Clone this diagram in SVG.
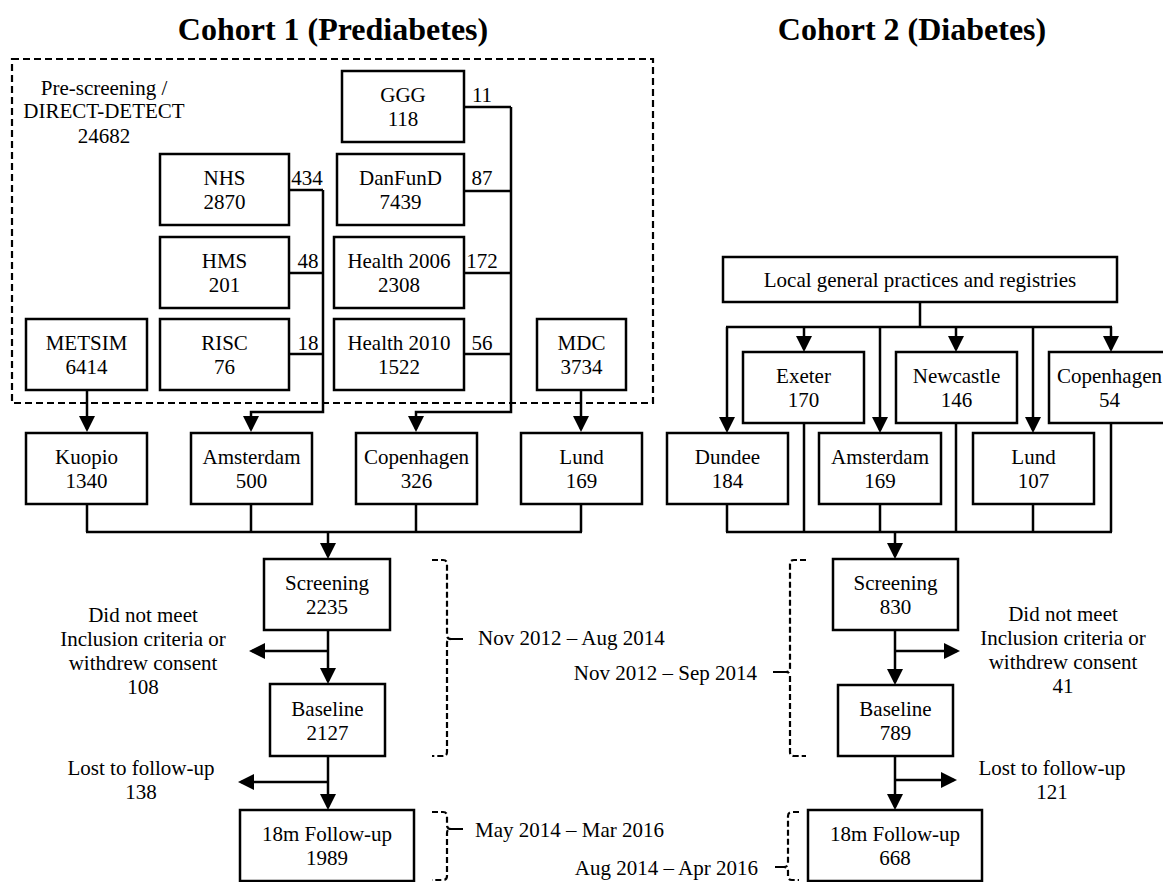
<svg xmlns="http://www.w3.org/2000/svg" width="1163" height="882" viewBox="0 0 1163 882">
<style>
.box{fill:#fff;stroke:#000;stroke-width:2.5}
.t{font-family:"Liberation Serif","Times New Roman",serif;font-size:21px;fill:#000;text-anchor:middle}
.ts{font-family:"Liberation Serif","Times New Roman",serif;font-size:21px;fill:#000}
.title{font-family:"Liberation Serif","Times New Roman",serif;font-size:32px;font-weight:bold;fill:#000;text-anchor:middle}
.c{fill:none;stroke:#000;stroke-width:2.5}
.a{fill:none;stroke:#000;stroke-width:2.5;marker-end:url(#ah)}
.d{fill:none;stroke:#000;stroke-width:2.2;stroke-dasharray:7 4}
.b{fill:none;stroke:#000;stroke-width:2.2;stroke-dasharray:6 3}
</style>
<defs>
<marker id="ah" viewBox="0 0 16 16" refX="13" refY="8" markerWidth="16" markerHeight="16" markerUnits="userSpaceOnUse" orient="auto">
<path d="M0,0 L16,8 L0,16 Z" fill="#000"/>
</marker>
</defs>
<rect width="1163" height="882" fill="#fff"/>
<text class="title" x="333" y="40">Cohort 1 (Prediabetes)</text>
<text class="title" x="912" y="40">Cohort 2 (Diabetes)</text>

<g id="prescreening">
<rect x="12" y="59" width="641" height="344" class="d"/>
<text class="t" x="104" y="95">Pre-screening /</text>
<text class="t" x="104" y="118">DIRECT-DETECT</text>
<text class="t" x="104" y="143">24682</text>
</g>

<g id="connectors">
<path class="c" d="M289,190 H323 M289,273 H323 M289,354 H323"/>
<path class="a" d="M323,190 V412 H251 V429"/>
<path class="c" d="M464,107 H511 M464,191 H511 M464,273 H511 M464,354 H511"/>
<path class="a" d="M511,107 V412 H416 V429"/>
<path class="a" d="M87,390 V429"/>
<path class="a" d="M581,390 V429"/>
<path class="c" d="M87,504 V532 M251,504 V532 M416,504 V532 M581,504 V532 M86,532 H582"/>
<path class="a" d="M328,532 V556"/>
<path class="a" d="M328,630 V681"/>
<path class="a" d="M328,651 H252"/>
<path class="a" d="M328,756 V807"/>
<path class="a" d="M328,782 H241"/>
<path class="c" d="M920,302 V327 M726,327 H1112"/>
<path class="a" d="M727,327 V430"/>
<path class="a" d="M804,327 V349"/>
<path class="a" d="M880,327 V430"/>
<path class="a" d="M956,327 V349"/>
<path class="a" d="M1033,327 V430"/>
<path class="a" d="M1111,327 V349"/>
<path class="c" d="M727,504 V532 M804,423 V532 M880,504 V532 M956,423 V532 M1033,504 V532 M1111,423 V532 M726,532 H1112"/>
<path class="a" d="M895,532 V556"/>
<path class="a" d="M895,630 V682"/>
<path class="a" d="M895,651 H957"/>
<path class="a" d="M895,756 V807"/>
<path class="a" d="M895,780 H954"/>
</g>

<g id="counts">
<text class="t" x="307" y="185">434</text>
<text class="t" x="308" y="268">48</text>
<text class="t" x="308" y="350">18</text>
<text class="t" x="482" y="102">11</text>
<text class="t" x="482" y="185">87</text>
<text class="t" x="482" y="268">172</text>
<text class="t" x="482" y="350">56</text>
</g>

<g id="ggg"><rect class="box" x="342" y="71" width="122" height="71"/><text class="t" x="403" y="102">GGG</text><text class="t" x="403" y="125.5">118</text></g>
<g id="nhs"><rect class="box" x="160" y="154" width="129" height="71"/><text class="t" x="224.5" y="185">NHS</text><text class="t" x="224.5" y="208.5">2870</text></g>
<g id="danfund"><rect class="box" x="337" y="154" width="127" height="71"/><text class="t" x="400.5" y="185">DanFunD</text><text class="t" x="400.5" y="208.5">7439</text></g>
<g id="hms"><rect class="box" x="160" y="237" width="129" height="71"/><text class="t" x="224.5" y="268">HMS</text><text class="t" x="224.5" y="291.5">201</text></g>
<g id="health2006"><rect class="box" x="334" y="237" width="130" height="71"/><text class="t" x="399" y="268">Health 2006</text><text class="t" x="399" y="291.5">2308</text></g>
<g id="metsim"><rect class="box" x="26" y="319" width="121" height="71"/><text class="t" x="86.5" y="350">METSIM</text><text class="t" x="86.5" y="373.5">6414</text></g>
<g id="risc"><rect class="box" x="160" y="319" width="129" height="71"/><text class="t" x="224.5" y="350">RISC</text><text class="t" x="224.5" y="373.5">76</text></g>
<g id="health2010"><rect class="box" x="334" y="319" width="130" height="71"/><text class="t" x="399" y="350">Health 2010</text><text class="t" x="399" y="373.5">1522</text></g>
<g id="mdc"><rect class="box" x="537" y="319" width="89" height="71"/><text class="t" x="581.5" y="350">MDC</text><text class="t" x="581.5" y="373.5">3734</text></g>

<g id="kuopio"><rect class="box" x="26" y="433" width="121" height="71"/><text class="t" x="86.5" y="464">Kuopio</text><text class="t" x="86.5" y="487.5">1340</text></g>
<g id="amsterdam1"><rect class="box" x="191" y="433" width="121" height="71"/><text class="t" x="251.5" y="464">Amsterdam</text><text class="t" x="251.5" y="487.5">500</text></g>
<g id="copenhagen1"><rect class="box" x="356" y="433" width="121" height="71"/><text class="t" x="416.5" y="464">Copenhagen</text><text class="t" x="416.5" y="487.5">326</text></g>
<g id="lund1"><rect class="box" x="521" y="433" width="121" height="71"/><text class="t" x="581.5" y="464">Lund</text><text class="t" x="581.5" y="487.5">169</text></g>

<g id="screening1"><rect class="box" x="264" y="559" width="126" height="71"/><text class="t" x="327" y="590">Screening</text><text class="t" x="327" y="613.5">2235</text></g>
<g id="baseline1"><rect class="box" x="270" y="684" width="115" height="72"/><text class="t" x="327.5" y="716">Baseline</text><text class="t" x="327.5" y="739.5">2127</text></g>
<g id="followup1"><rect class="box" x="240" y="810" width="174" height="71"/><text class="t" x="327" y="841">18m Follow-up</text><text class="t" x="327" y="864.5">1989</text></g>

<g id="excluded1">
<text class="t" x="143" y="622">Did not meet</text>
<text class="t" x="143" y="646">Inclusion criteria or</text>
<text class="t" x="143" y="670">withdrew consent</text>
<text class="t" x="143" y="694">108</text>
</g>
<g id="lost1">
<text class="t" x="141" y="775">Lost to follow-up</text>
<text class="t" x="141" y="799">138</text>
</g>

<g id="period1a">
<path class="b" d="M432,560 H443 Q447,560 447,564 V635 Q447,639 451,639 Q447,639 447,643 V752 Q447,756 443,756 H432"/>
<path class="c" d="M451,639 H463" style="stroke-width:2"/>
<text class="ts" x="478" y="645">Nov 2012 – Aug 2014</text>
</g>
<g id="period1b">
<path class="b" d="M432,812 H443 Q447,812 447,816 V825 Q447,829 451,829 Q447,829 447,833 V876 Q447,880 443,880 H432"/>
<path class="c" d="M451,829 H463" style="stroke-width:2"/>
<text class="ts" x="475" y="837">May 2014 – Mar 2016</text>
</g>

<g id="local"><rect class="box" x="723" y="257" width="394" height="45"/><text class="t" x="920" y="287">Local general practices and registries</text></g>
<g id="exeter"><rect class="box" x="743" y="352" width="121" height="71"/><text class="t" x="803.5" y="383">Exeter</text><text class="t" x="803.5" y="406.5">170</text></g>
<g id="newcastle"><rect class="box" x="896" y="352" width="121" height="71"/><text class="t" x="956.5" y="383">Newcastle</text><text class="t" x="956.5" y="406.5">146</text></g>
<g id="copenhagen2"><rect class="box" x="1049" y="352" width="121" height="71"/><text class="t" x="1109.5" y="383">Copenhagen</text><text class="t" x="1109.5" y="406.5">54</text></g>
<g id="dundee"><rect class="box" x="667" y="433" width="121" height="71"/><text class="t" x="727.5" y="464">Dundee</text><text class="t" x="727.5" y="487.5">184</text></g>
<g id="amsterdam2"><rect class="box" x="819" y="433" width="122" height="71"/><text class="t" x="880" y="464">Amsterdam</text><text class="t" x="880" y="487.5">169</text></g>
<g id="lund2"><rect class="box" x="973" y="433" width="121" height="71"/><text class="t" x="1033.5" y="464">Lund</text><text class="t" x="1033.5" y="487.5">107</text></g>

<g id="screening2"><rect class="box" x="833" y="559" width="125" height="71"/><text class="t" x="895.5" y="590">Screening</text><text class="t" x="895.5" y="613.5">830</text></g>
<g id="baseline2"><rect class="box" x="838" y="685" width="115" height="71"/><text class="t" x="895.5" y="716">Baseline</text><text class="t" x="895.5" y="739.5">789</text></g>
<g id="followup2"><rect class="box" x="808" y="810" width="174" height="71"/><text class="t" x="895" y="841">18m Follow-up</text><text class="t" x="895" y="864.5">668</text></g>

<g id="excluded2">
<text class="t" x="1063" y="621">Did not meet</text>
<text class="t" x="1063" y="645">Inclusion criteria or</text>
<text class="t" x="1063" y="669">withdrew consent</text>
<text class="t" x="1063" y="693">41</text>
</g>
<g id="lost2">
<text class="t" x="1052" y="775">Lost to follow-up</text>
<text class="t" x="1052" y="799">121</text>
</g>

<g id="period2a">
<path class="b" d="M806,560 H794 Q790,560 790,564 V668 Q790,672 786,672 Q790,672 790,676 V752 Q790,756 794,756 H806"/>
<path class="c" d="M786,672 H773" style="stroke-width:2"/>
<text class="ts" x="757" y="680" text-anchor="end">Nov 2012 – Sep 2014</text>
</g>
<g id="period2b">
<path class="b" d="M799,812 H792 Q788,812 788,816 V863 Q788,867 784,867 Q788,867 788,871 V876 Q788,880 792,880 H799"/>
<path class="c" d="M784,867 H775" style="stroke-width:2"/>
<text class="ts" x="758" y="875" text-anchor="end">Aug 2014 – Apr 2016</text>
</g>
</svg>
